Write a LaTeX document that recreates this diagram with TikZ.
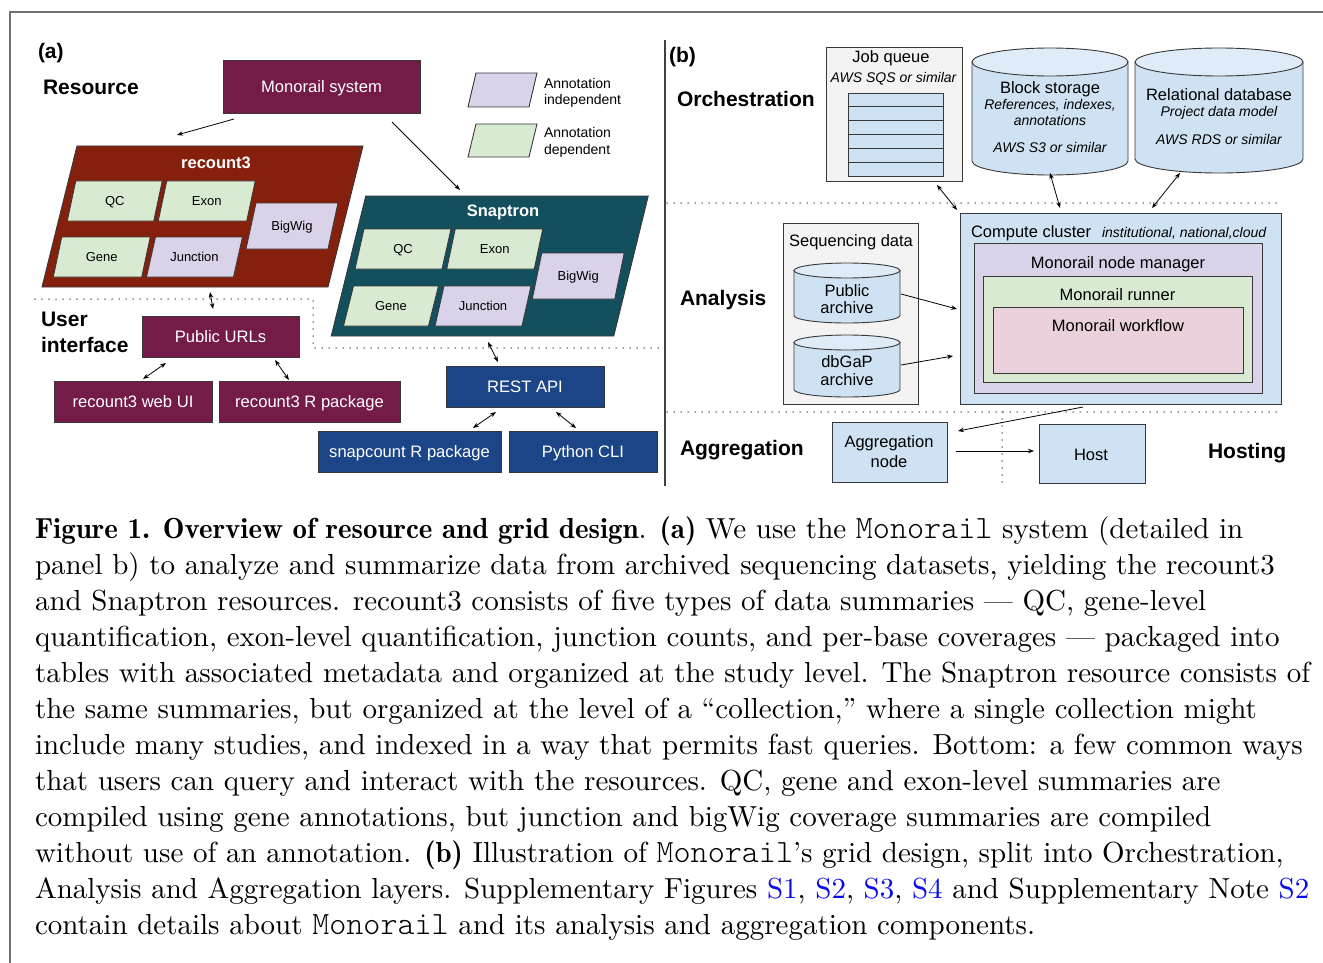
\documentclass[tikz,border=0pt]{standalone}
\usepackage{fontspec}
\newfontfamily\arial{Liberation Sans}
\newfontfamily\capfont{lmroman10-regular.otf}[BoldFont=lmromandemi10-regular.otf]
\newfontfamily\monolight{lmmonolt10-regular.otf}
\usetikzlibrary{arrows.meta,calc}
\definecolor{magentaD}{HTML}{741B47}
\definecolor{redD}{HTML}{85200C}
\definecolor{tealD}{HTML}{134F5C}
\definecolor{blueD}{HTML}{1C4587}
\definecolor{greenL}{HTML}{D9EAD3}
\definecolor{lavL}{HTML}{D9D2E9}
\definecolor{blueL}{HTML}{CFE2F3}
\definecolor{blueLL}{HTML}{DFEBF7}
\definecolor{pinkL}{HTML}{EAD1DC}
\definecolor{grayL}{HTML}{F3F3F3}
\definecolor{frameG}{HTML}{707070}
\definecolor{linkB}{HTML}{0A0AF0}
\newcommand{\fs}[2]{\arial\fontsize{#1}{#2}\selectfont}
\newcommand{\mrail}[1]{{\fontsize{32.5}{36}\monolight #1}}
% parallelogram: name, cx, cy, w, h, skew, fill, text style, text
\newcommand{\para}[9]{%
  \node[minimum width={#4*1pt}, minimum height={#5*1pt}] (#1) at (#2,#3) {};
  \draw[bx, fill=#7] ({#2-#4/2+#6/2},{#3-#5/2}) -- ({#2+#4/2+#6/2},{#3-#5/2}) -- ({#2+#4/2-#6/2},{#3+#5/2}) -- ({#2-#4/2-#6/2},{#3+#5/2}) -- cycle;
  \node[#8] at (#1) {#9};
}
% cylinder: name, x1, x2, ytop, ybot, ry
\newcommand{\cyl}[6]{%
  \node[minimum width={(#3-#2)*1pt}, minimum height={(#5-#4)*1pt}] (#1) at ({(#2+#3)/2},{(#4+#5)/2}) {};
  \draw[bx, fill=blueL] (#2,{#4+#6}) -- (#2,{#5-#6}) arc[start angle=180, end angle=0, x radius={(#3-#2)/2}, y radius=#6] -- (#3,{#4+#6}) -- cycle;
  \draw[bx, fill=blueLL] ({(#2+#3)/2},{#4+#6}) ellipse[x radius={(#3-#2)/2}, y radius=#6];
}
\begin{document}
\begin{tikzpicture}[x=1pt,y=-1pt,
  every node/.style={inner sep=0pt, outer sep=0pt},
  bx/.style={draw=black!78, line width=0.9pt},
  solid box/.style={bx, fill=#1, text=white, font=\fs{16.6}{19}, text height=11.9pt, text depth=0pt},
  lt box/.style={bx, fill=#1},
  t13/.style={font=\fs{13}{15}, text height=9.3pt, text depth=0pt},
  ttl/.style={font=\fs{16.5}{19}\bfseries, text=white, text height=11.8pt, text depth=0pt},
  lbl/.style={anchor=base west, font=\fs{21}{25}\bfseries},
  f16/.style={anchor=base, font=\fs{16.5}{19}},
  f14i/.style={anchor=base, font=\fs{14}{17}\itshape},
  leg/.style={anchor=base west, font=\fs{14}{17}},
  arr/.style={-{Stealth[length=6pt,width=4.5pt]}, line width=0.8pt},
  darr/.style={{Stealth[length=6pt,width=4.5pt]}-{Stealth[length=6pt,width=4.5pt]}, line width=0.8pt},
  dots/.style={line width=1.5pt, dash pattern=on 0pt off 7pt, line cap=round, black!80},
  capt/.style={anchor=base west, font=\capfont\fontsize{29}{36}\selectfont}
]
\useasboundingbox (0,0) rectangle (1323,963);
\fill[white] (0,0) rectangle (1323,963);
\draw[frameG, line width=1.6pt] (10,963) -- (10,12) -- (1323,12);
\draw[black!75, line width=1.6pt] (665,40) -- (665,486);

% ---------------- panel (a)
\node[lbl] (la) at (38,59) {(a)};
\node[lbl] (lres) at (43,95) {Resource};
\node[lbl] (luser) at (41,326) {User};
\node[lbl] (linter) at (41,352) {interface};

\node[solid box=magentaD, minimum width=197pt, minimum height=53pt] (mono) at (321.5,86.5) {Monorail system};

\para{rc}{202.5}{216.5}{286}{141}{35}{redD}{t13}{}
\node[ttl] (rctitle) at (216,162.5) {recount3};
\para{rqc}{114.75}{201}{86.5}{40}{8.5}{greenL}{t13}{QC}
\para{rex}{206.75}{201}{88.5}{40}{8.5}{greenL}{t13}{Exon}
\para{rbw}{292}{226}{82}{46}{10}{lavL}{t13}{BigWig}
\para{rge}{101.75}{257}{88.5}{40}{8.5}{greenL}{t13}{Gene}
\para{rju}{194.5}{257}{87}{40}{9}{lavL}{t13}{Junction}

\para{sn}{489.75}{266}{282.5}{140}{34.5}{tealD}{t13}{}
\node[ttl] (sntitle) at (503,211) {Snaptron};
\para{sqc}{403}{249}{87}{40}{9}{greenL}{t13}{QC}
\para{sex}{494.75}{249}{87.5}{40}{8.5}{greenL}{t13}{Exon}
\para{sbw}{578.25}{276}{82.5}{46}{9.5}{lavL}{t13}{BigWig}
\para{sge}{391}{306}{85}{40}{10}{greenL}{t13}{Gene}
\para{sju}{483}{306}{87}{40}{9}{lavL}{t13}{Junction}

\para{legi}{502.5}{90}{61}{34}{8}{lavL}{t13}{}
\para{legd}{502.5}{140.5}{61}{33}{8}{greenL}{t13}{}
\node[leg] (legi1) at (544,89) {Annotation};
\node[leg] (legi2) at (544,105) {independent};
\node[leg] (legd1) at (544,138) {Annotation};
\node[leg] (legd2) at (544,154) {dependent};

\draw[dots] (35,299) -- (313,299) -- (313,348) -- (660,348);

\node[solid box=magentaD, minimum width=157pt, minimum height=41pt] (pub) at (220.5,336.5) {Public URLs};
\node[solid box=magentaD, minimum width=158pt, minimum height=41pt] (webui) at (133,401.5) {recount3 web UI};
\node[solid box=magentaD, minimum width=181pt, minimum height=41pt] (rpkg) at (309.5,401.5) {recount3 R package};
\node[solid box=blueD, minimum width=158pt, minimum height=41pt] (rest) at (525,386.5) {REST API};
\node[solid box=blueD, minimum width=183pt, minimum height=41pt] (snapc) at (409.5,451.5) {snapcount R package};
\node[solid box=blueD, minimum width=148pt, minimum height=41pt] (pycli) at (583,451.5) {Python CLI};

\draw[arr] ($(mono.south west)+(11,6)$) -- ($(rc.north)+(-25.5,-11)$);
\draw[arr] ($(mono.south)+(70.5,9)$) -- ($(sn.north)+(-29.75,-6)$);
\draw[darr] ($(rc.south)+(7.5,5)$) -- ($(pub.north)+(-7.5,-7)$);
\draw[darr] ($(pub.south)+(-54.5,6)$) -- ($(webui.north)+(10,-2)$);
\draw[darr] ($(pub.south)+(54.5,3)$) -- ($(rpkg.north)+(-20.5,-1)$);
\draw[darr] ($(sn.south)+(-1.75,6)$) -- ($(rest.north)+(-27,-4)$);
\draw[darr] ($(rest.south)+(-29,5)$) -- ($(snapc.north)+(63.5,-3)$);
\draw[darr] ($(rest.south)+(31,5)$) -- ($(pycli.north)+(-7,-3)$);

% ---------------- panel (b)
\node[lbl] (lb) at (669,63) {(b)};
\node[lbl] (lorch) at (677,107) {Orchestration};
\node[lbl] (lana) at (680,305) {Analysis};
\node[lbl] (lagg) at (680,455) {Aggregation};
\node[lbl] (lhost) at (1208,458) {Hosting};

\node[lt box=grayL, minimum width=136pt, minimum height=134pt] (jobq) at (894,114) {};
\node[f16] (jobqt) at (891,63) {Job queue};
\node[f14i] (jobqs) at (893.5,83) {AWS SQS or similar};
\foreach \i in {0,...,5} \draw[bx, fill=blueL] (848,{93+\i*13.83}) rectangle (943,{93+(\i+1)*13.83});

\cyl{blk}{972}{1128}{48}{175}{14}
\node[f16] (blk1) at (1050,94) {Block storage};
\node[f14i] (blk2) at (1050,110) {References, indexes,};
\node[f14i] (blk3) at (1050,126) {annotations};
\node[f14i] (blk4) at (1050,153) {AWS S3 or similar};

\cyl{rdb}{1135}{1303}{48}{173}{14}
\node[f16] (rdb1) at (1219,101) {Relational database};
\node[f14i] (rdb2) at (1219,117) {Project data model};
\node[f14i] (rdb3) at (1219,145) {AWS RDS or similar};

\draw[dots] (667,203) -- (1280,203);
\draw[dots] (667,412) -- (1280,412);
\draw[dots] (1002,412) -- (1002,486);

\node[lt box=grayL, minimum width=135pt, minimum height=181pt] (seq) at (850.5,313.5) {};
\node[f16] (seqt) at (851,246) {Sequencing data};
\cyl{pa}{794}{900}{263}{323}{7.5}
\node[f16] (pa1) at (847,296) {Public};
\node[f16] (pa2) at (847,313) {archive};
\cyl{db}{794}{900}{335}{397}{7.5}
\node[f16] (db1) at (847,367) {dbGaP};
\node[f16] (db2) at (847,385) {archive};

\node[lt box=blueL, minimum width=321pt, minimum height=191pt] (comp) at (1120.5,308.5) {};
\node[lt box=lavL, minimum width=288pt, minimum height=150pt] (nm) at (1118,318) {};
\node[lt box=greenL, minimum width=269pt, minimum height=106pt] (run) at (1117.5,329) {};
\node[lt box=pinkL, minimum width=250pt, minimum height=66pt] (wf) at (1118,340) {};
\node[f16, anchor=base west] (compt) at (971,237) {Compute cluster};
\node[f14i, anchor=base west] (comps) at (1102,237) {institutional, national,cloud};
\node[f16] (nmt) at (1118,268) {Monorail node manager};
\node[f16] (runt) at (1117.5,300) {Monorail runner};
\node[f16] (wft) at (1118,331) {Monorail workflow};

\node[lt box=blueL, minimum width=115pt, minimum height=60pt] (agg) at (889.5,452) {};
\node[f16] (agg1) at (889,447) {Aggregation};
\node[f16] (agg2) at (889,467) {node};
\node[lt box=blueL, minimum width=106pt, minimum height=59pt] (host) at (1092,453.5) {};
\node[f16] (hostt) at (1091,460) {Host};

\draw[darr] ($(jobq.south east)+(-25,4)$) -- ($(comp.north west)+(-3,-3)$);
\draw[darr] ($(blk.south)+(0,-2)$) -- ($(comp.north)+(-60.5,-5)$);
\draw[darr] ($(rdb.south)+(-39,0)$) -- ($(comp.north)+(31.5,-5)$);
\draw[arr] ($(pa.east)+(1,1)$) -- ($(comp.west)+(-3,0.5)$);
\draw[arr] ($(db.east)+(1,-1)$) -- ($(comp.west)+(-7,47.5)$);
\draw[arr] ($(comp.south)+(-37.5,3)$) -- ($(agg.east)+(11,-21)$);
\draw[arr] ($(agg.east)+(9,-1)$) -- ($(host.west)+(-5,-2.5)$);

% ---------------- caption
\node[capt] (c1) at (35,538) {\textbf{Figure 1. Overview of resource and grid design}. \textbf{(a)} We use the \mrail{Monorail} system (detailed in};
\node[capt] (c2) at (35,574) {panel b) to analyze and summarize data from archived sequencing datasets, yielding the recount3};
\node[capt] (c3) at (35,610) {and Snaptron resources. recount3 consists of five types of data summaries — QC, gene-level};
\node[capt] (c4) at (35,646) {quantification, exon-level quantification, junction counts, and per-base coverages — packaged into};
\node[capt] (c5) at (35,682) {tables with associated metadata and organized at the study level. The Snaptron resource consists of};
\node[capt] (c6) at (35,718) {the same summaries, but organized at the level of a “collection,” where a single collection might};
\node[capt] (c7) at (35,754) {include many studies, and indexed in a way that permits fast queries. Bottom: a few common ways};
\node[capt] (c8) at (35,790) {that users can query and interact with the resources. QC, gene and exon-level summaries are};
\node[capt] (c9) at (35,826) {compiled using gene annotations, but junction and bigWig coverage summaries are compiled};
\node[capt] (c10) at (35,862) {without use of an annotation. \textbf{(b)} Illustration of \mrail{Monorail}’s grid design, split into Orchestration,};
\node[capt] (c11) at (35,898) {Analysis and Aggregation layers. Supplementary Figures \textcolor{linkB}{S1}, \textcolor{linkB}{S2}, \textcolor{linkB}{S3}, \textcolor{linkB}{S4} and Supplementary Note \textcolor{linkB}{S2}};
\node[capt] (c12) at (35,934) {contain details about \mrail{Monorail} and its analysis and aggregation components.};
\end{tikzpicture}
\end{document}
